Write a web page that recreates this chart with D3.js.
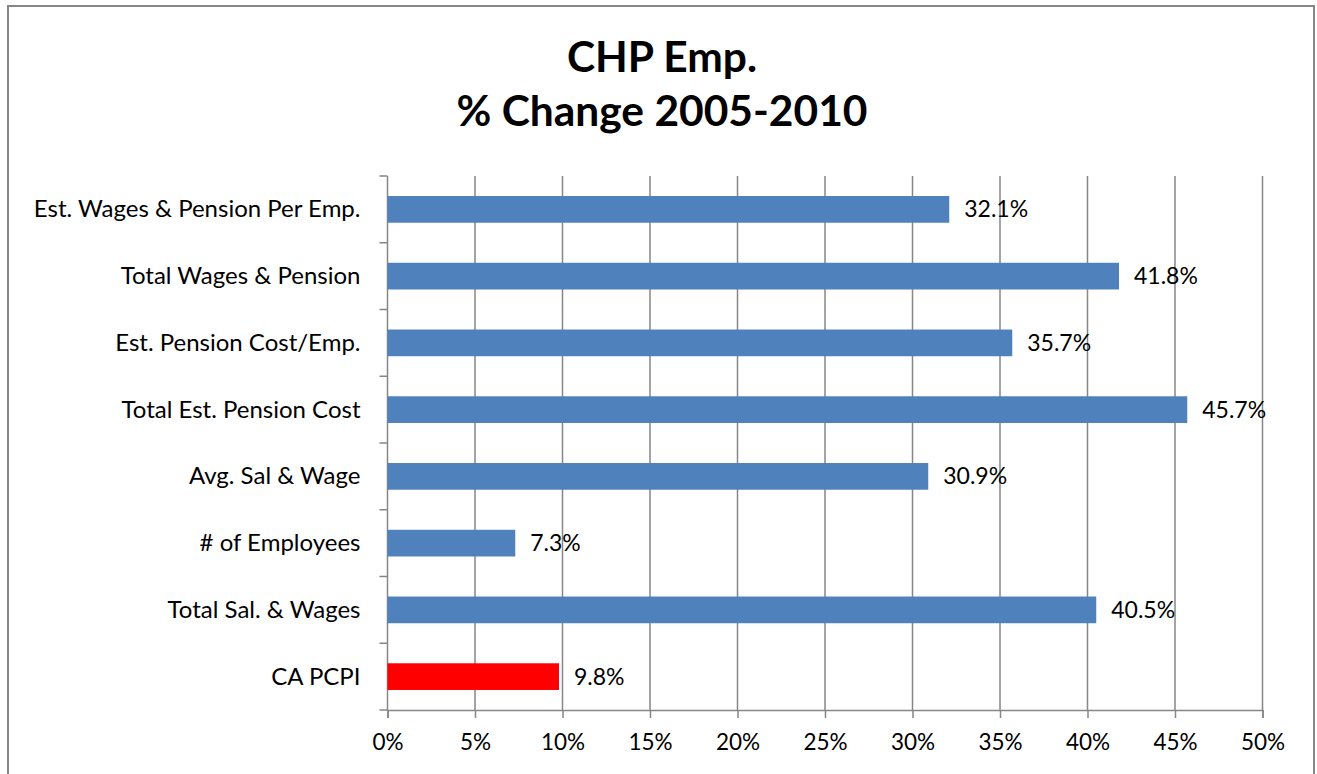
<!DOCTYPE html>
<html>
<head>
<meta charset="utf-8">
<script src="https://cdn.jsdelivr.net/npm/d3@7"></script>
<style>
  body { margin: 0; background: #fff; }
  svg text { font-family: Lato, "Open Sans", sans-serif; fill: #000; }
</style>
</head>
<body>
<div id="chart"></div>
<script>
// categories top to bottom, as in the chart
const categories = [
    "Est. Wages & Pension Per Emp.",
    "Total Wages & Pension",
    "Est. Pension Cost/Emp.",
    "Total Est. Pension Cost",
    "Avg. Sal & Wage",
    "# of Employees",
    "Total Sal. & Wages",
    "CA PCPI"
]
const pctChange = [32.1, 41.8, 35.7, 45.7, 30.9, 7.3, 40.5, 9.8]
const highlight = ["CA PCPI"]
const xTicks = [0, 5, 10, 15, 20, 25, 30, 35, 40, 45, 50]
const titleLines = ["CHP Emp.", "% Change 2005-2010"]

const width = 1317, height = 774
const margin = {top: 176, left: 387.5, right: 54.5, bottom: 64}
const innerW = width - margin.left - margin.right
const innerH = height - margin.top - margin.bottom
const GRID = "#868686"

const svg = d3.select("#chart").append("svg")
    .attr("width", width)
    .attr("height", height)

/* outer chart border */
svg.append("rect")
    .attr("x", 8).attr("y", 6)
    .attr("width", 1306).attr("height", 800)
    .attr("fill", "none")
    .attr("stroke", GRID)
    .attr("stroke-width", 2)

svg.selectAll(".title")
    .data(titleLines)
    .join("text")
    .attr("class", "title")
    .attr("x", 662)
    .attr("y", (d, i) => 72 + i * 54)
    .attr("text-anchor", "middle")
    .style("font-size", "42.5px")
    .style("font-weight", "bold")
    .text(d => d)

const g = svg.append("g")
    .attr("transform", `translate(${margin.left},${margin.top})`)

const x = d3.scaleLinear().domain([0, 50]).range([0, innerW])
const y = d3.scaleBand().domain(categories).range([0, innerH])
    .paddingInner(0.6).paddingOuter(0.3)

// vertical gridlines
g.selectAll(".grid")
    .data(xTicks.slice(1))
    .join("line")
    .attr("class", "grid")
    .attr("x1", d => x(d)).attr("x2", d => x(d))
    .attr("y1", 0).attr("y2", innerH)
    .attr("stroke", GRID)
    .attr("stroke-width", 1.5)

// bottom axis
const xAxis = g.append("g")
    .attr("transform", `translate(0,${innerH})`)
    .call(d3.axisBottom(x).tickValues(xTicks).tickFormat(d => d + "%").tickSize(8).tickPadding(16))
xAxis.select(".domain").attr("stroke", GRID).attr("stroke-width", 1.5)
xAxis.selectAll(".tick line").attr("stroke", GRID).attr("stroke-width", 1.5)
xAxis.selectAll(".tick text").style("font-size", "22.5px")

// left axis, ticks between categories
const step = y.step()
const bounds = d3.range(categories.length + 1).map(i => i * step)
g.append("line")
    .attr("x1", 0).attr("x2", 0)
    .attr("y1", 0).attr("y2", innerH)
    .attr("stroke", GRID).attr("stroke-width", 1.5)
g.selectAll(".ytick")
    .data(bounds)
    .join("line")
    .attr("class", "ytick")
    .attr("x1", -8).attr("x2", 0)
    .attr("y1", d => d).attr("y2", d => d)
    .attr("stroke", GRID).attr("stroke-width", 1.5)

g.selectAll(".cat")
    .data(categories)
    .join("text")
    .attr("class", "cat")
    .attr("x", -27)
    .attr("y", d => y(d) + y.bandwidth() / 2 + 8)
    .attr("text-anchor", "end")
    .style("font-size", "24px")
    .text(d => d)

// bars
g.selectAll(".bar")
    .data(categories)
    .join("rect")
    .attr("class", "bar")
    .attr("x", 0)
    .attr("y", d => y(d))
    .attr("width", (d, i) => x(pctChange[i]))
    .attr("height", y.bandwidth())
    .attr("fill", d => highlight.includes(d) ? "#FF0000" : "#4F81BD")

g.selectAll(".val")
    .data(categories)
    .join("text")
    .attr("class", "val")
    .attr("x", (d, i) => x(pctChange[i]) + 15)
    .attr("y", d => y(d) + y.bandwidth() / 2 + 8)
    .style("font-size", "23px")
    .text((d, i) => pctChange[i].toFixed(1) + "%")
</script>
</body>
</html>
